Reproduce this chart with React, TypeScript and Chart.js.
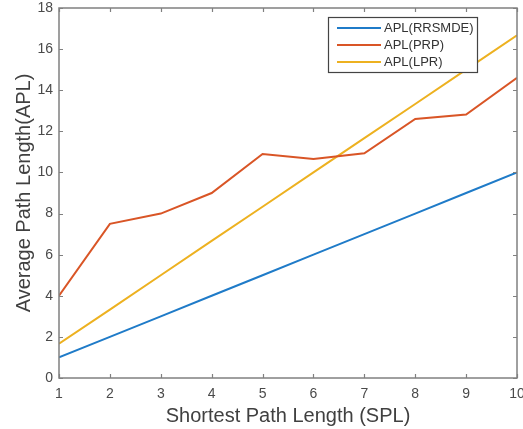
import React, { useEffect, useRef } from "react";
import { Chart, registerables } from "chart.js";

Chart.register(...registerables);

const splValues = [1, 2, 3, 4, 5, 6, 7, 8, 9, 10];
const aplRRSMDE = [1, 2, 3, 4, 5, 6, 7, 8, 9, 10];
const aplPRP = [4, 7.5, 8, 9, 10.9, 10.65, 10.93, 12.6, 12.82, 14.6];
const aplLPR = [1.67, 3.33, 5, 6.67, 8.33, 10, 11.67, 13.33, 15, 16.67];
const seriesLabels = ["APL(RRSMDE)", "APL(PRP)", "APL(LPR)"];
const seriesColors = ["#1F7BC8", "#D95526", "#EDB120"];

const AXIS_COLOR = "#808080";
const TEXT_COLOR = "#4a4a4a";
const FONT = "'Liberation Sans', Arial, sans-serif";

const framePlugin = {
  id: "frame",
  afterDatasetsDraw(chart: any) {
    const { ctx, chartArea: a, scales } = chart;
    ctx.save();
    ctx.strokeStyle = AXIS_COLOR;
    ctx.lineWidth = 1.5;
    ctx.strokeRect(a.left, a.top, a.right - a.left, a.bottom - a.top);
    const tl = 4;
    ctx.lineWidth = 1.2;
    ctx.beginPath();
    scales.x.ticks.forEach((t: any) => {
      const px = Math.round(scales.x.getPixelForValue(t.value)) + 0.5;
      ctx.moveTo(px, a.bottom);
      ctx.lineTo(px, a.bottom - tl);
      ctx.moveTo(px, a.top);
      ctx.lineTo(px, a.top + tl);
    });
    scales.y.ticks.forEach((t: any) => {
      const py = Math.round(scales.y.getPixelForValue(t.value)) + 0.5;
      ctx.moveTo(a.left, py);
      ctx.lineTo(a.left + tl, py);
      ctx.moveTo(a.right, py);
      ctx.lineTo(a.right - tl, py);
    });
    ctx.stroke();
    ctx.restore();
  },
};

const legendPlugin = {
  id: "innerLegend",
  afterDraw(chart: any) {
    const { ctx } = chart;
    const x0 = 328, y0 = 17, w = 149, h = 55;
    ctx.save();
    ctx.fillStyle = "#ffffff";
    ctx.fillRect(x0, y0, w, h);
    ctx.strokeStyle = "#444444";
    ctx.lineWidth = 1.2;
    ctx.strokeRect(x0 + 0.5, y0 + 0.5, w, h);
    ctx.font = `13px ${FONT}`;
    ctx.textBaseline = "middle";
    ctx.textAlign = "left";
    chart.data.datasets.forEach((ds: any, i: number) => {
      const y = y0 + 11 + i * 17;
      ctx.strokeStyle = ds.borderColor;
      ctx.lineWidth = 2;
      ctx.beginPath();
      ctx.moveTo(x0 + 9, y);
      ctx.lineTo(x0 + 53, y);
      ctx.stroke();
      ctx.fillStyle = "#333333";
      ctx.fillText(ds.label, x0 + 56, y);
    });
    ctx.restore();
  },
};

export default function App() {
  const ref = useRef<HTMLCanvasElement>(null);
  useEffect(() => {
    document.body.style.margin = "0";
    const series = [aplRRSMDE, aplPRP, aplLPR];
    const chart = new Chart(ref.current!, {
      type: "line",
      data: {
        datasets: series.map((vals, i) => ({
          label: seriesLabels[i],
          data: splValues.map((x, j) => ({ x, y: vals[j] })),
          borderColor: seriesColors[i],
          backgroundColor: seriesColors[i],
          borderWidth: 2,
          pointRadius: 0,
          tension: 0,
          fill: false,
        })),
      },
      options: {
        responsive: false,
        animation: false,
        layout: { padding: { top: 8, right: 6, left: 0, bottom: 0 } },
        plugins: { legend: { display: false }, tooltip: { enabled: false } },
        scales: {
          x: {
            type: "linear",
            min: 1,
            max: 10,
            grid: { display: false, drawTicks: false },
            border: { display: false },
            ticks: {
              stepSize: 1,
              padding: 8,
              color: TEXT_COLOR,
              font: { size: 14, family: FONT },
              maxRotation: 0,
            },
            title: {
              display: true,
              text: "Shortest Path Length (SPL)",
              color: "#404040",
              font: { size: 20, family: FONT },
              padding: { top: 0, bottom: 1 },
            },
            afterFit: (s: any) => {
              s.height = 51;
              s.paddingLeft = 0;
              s.paddingRight = 0;
            },
          },
          y: {
            type: "linear",
            min: 0,
            max: 18,
            grid: { display: false, drawTicks: false },
            border: { display: false },
            ticks: {
              stepSize: 2,
              padding: 6,
              color: TEXT_COLOR,
              font: { size: 14, family: FONT },
            },
            title: {
              display: true,
              text: "Average Path Length(APL)",
              color: "#404040",
              font: { size: 20, family: FONT },
              padding: { top: 12, bottom: 0 },
            },
            afterFit: (s: any) => {
              s.width = 59;
              s.paddingTop = 0;
              s.paddingBottom = 0;
            },
          },
        },
      },
      plugins: [framePlugin, legendPlugin],
    });
    return () => chart.destroy();
  }, []);
  return (
    <div style={{ width: 523, height: 429, background: "#fff" }}>
      <canvas ref={ref} width={523} height={429} />
    </div>
  );
}
